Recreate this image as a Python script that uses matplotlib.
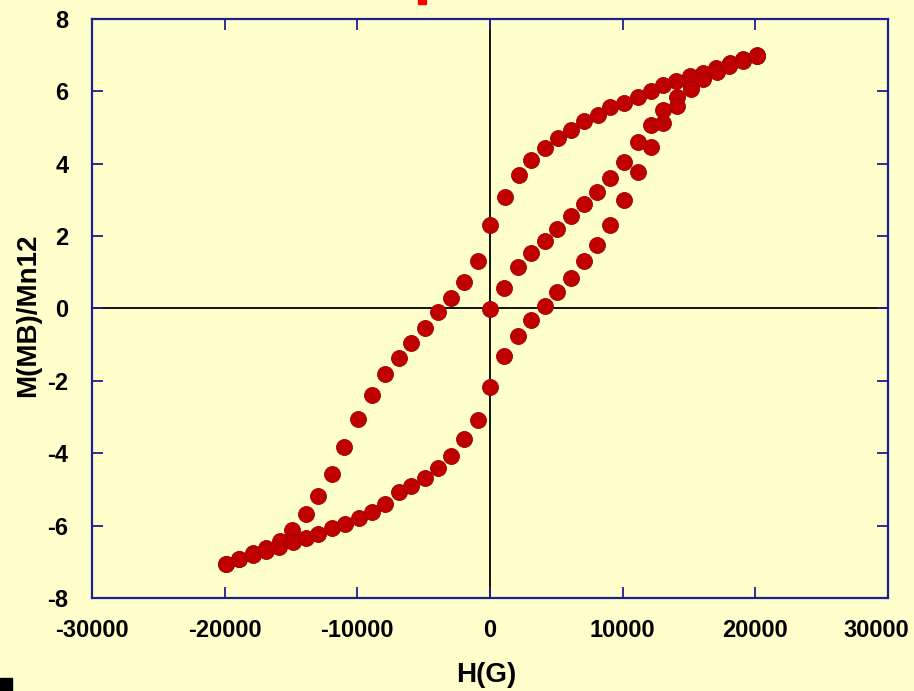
import matplotlib.pyplot as plt
import matplotlib.transforms as mtransforms
from matplotlib.patches import Rectangle

# initial magnetisation curve (from zero field)
h_init = [0, 1080, 2135, 3065, 4145, 5075, 6105, 7085, 8090, 9045, 10100,
          11155, 12110, 13065, 14070, 15125, 16080, 17085, 18015, 19095, 20150]
m_init = [-0.02, 0.58, 1.14, 1.54, 1.86, 2.20, 2.56, 2.88, 3.21, 3.61, 4.06,
          4.61, 5.07, 5.48, 5.85, 6.15, 6.38, 6.56, 6.72, 6.87, 6.98]

# descending branch (+20 kG -> -20 kG)
h_down = [20150, 19100, 18050, 17050, 16050, 15100, 14050, 13050, 12100, 11150,
          10100, 9050, 8100, 7100, 6100, 5100, 4150, 3050, 2150, 1100, 0,
          -930, -1960, -2940, -3950, -4900, -5950, -6880, -7920, -8870, -9920,
          -10980, -11890, -12940, -13870, -14950, -15850, -16900, -17850, -18900, -19900]
m_down = [7.00, 6.89, 6.78, 6.65, 6.52, 6.42, 6.30, 6.19, 6.00, 5.85,
          5.69, 5.56, 5.35, 5.18, 4.93, 4.72, 4.44, 4.10, 3.69, 3.09, 2.31,
          1.31, 0.74, 0.29, -0.09, -0.53, -0.94, -1.38, -1.82, -2.39, -3.06,
          -3.84, -4.57, -5.17, -5.69, -6.13, -6.42, -6.62, -6.75, -6.93, -7.07]

# ascending branch (-20 kG -> +20 kG)
h_up = [-19900, -18900, -17850, -16890, -15880, -14880, -13870, -12940, -11890, -10950,
        -9900, -8870, -7920, -6860, -5955, -4900, -3940, -2940, -1960, -930, 0,
        1080, 2135, 3065, 4145, 5075, 6105, 7085, 8090, 9045, 10100,
        11155, 12110, 13065, 14070, 15125, 16080, 17085, 18015, 19095, 20150]
m_up = [-7.07, -6.93, -6.81, -6.69, -6.58, -6.44, -6.35, -6.24, -6.06, -5.96,
        -5.78, -5.62, -5.40, -5.08, -4.90, -4.69, -4.40, -4.08, -3.62, -3.08, -2.16,
        -1.31, -0.77, -0.32, 0.07, 0.46, 0.83, 1.31, 1.75, 2.31, 3.00,
        3.76, 4.45, 5.12, 5.60, 6.06, 6.34, 6.54, 6.70, 6.85, 6.98]

bg = '#ffffcc'
frame = '#1f1f8f'
dot = '#c00000'

plt.rcParams['font.family'] = ['Liberation Sans', 'DejaVu Sans']
plt.rcParams['font.weight'] = 'bold'
plt.rcParams['axes.unicode_minus'] = False

fig = plt.figure(figsize=(9.14, 6.91), dpi=100, facecolor=bg)
ax = fig.add_axes([0.1007, 0.1346, 0.8709, 0.8379], facecolor=bg)

ax.axhline(0, color='black', lw=1.3, zorder=1)
ax.axvline(0, color='black', lw=1.3, zorder=1)

for h, m in [(h_init, m_init), (h_down, m_down), (h_up, m_up)]:
    ax.plot(h, m, linestyle='None', marker='o', ms=11.5, color=dot,
            markeredgecolor='#a00000', markeredgewidth=0.6, zorder=3)

ax.set_xlim(-30000, 30000)
ax.set_ylim(-8, 8)
ax.set_xticks(range(-30000, 30001, 10000))
ax.set_yticks(range(-8, 9, 2))

for s in ax.spines.values():
    s.set_color(frame)
    s.set_linewidth(1.6)
ax.tick_params(direction='in', top=True, right=True, length=8, width=1.3,
               color=frame, labelsize=17, labelcolor='black')
ax.tick_params(axis='y', pad=17)
ax.tick_params(axis='x', pad=15)
for lab in ax.get_xticklabels() + ax.get_yticklabels():
    lab.set_fontweight('bold')

# last x label sits pulled in from the right edge, as in the original
last = ax.get_xticklabels()[-1]
last.set_transform(last.get_transform() +
                   mtransforms.ScaledTranslation(-12 / 100, 0, fig.dpi_scale_trans))

fig.text(0.532, 0.023, 'H(G)', ha='center', va='center', fontsize=20, fontweight='bold')
fig.text(0.031, 0.544, 'M(MB)/Mn12', ha='center', va='center', rotation=90,
         fontsize=20, fontweight='bold')

# clipped pieces at the figure edges
fig.patches.append(Rectangle((418 / 914, 1 - 4 / 691), 8 / 914, 4 / 691,
                             transform=fig.transFigure, color='#ff0000', zorder=5))
fig.patches.append(Rectangle((0, 0), 12 / 914, 13 / 691,
                             transform=fig.transFigure, color='black', zorder=5))

fig.savefig('out.png', dpi=100, facecolor=bg)
